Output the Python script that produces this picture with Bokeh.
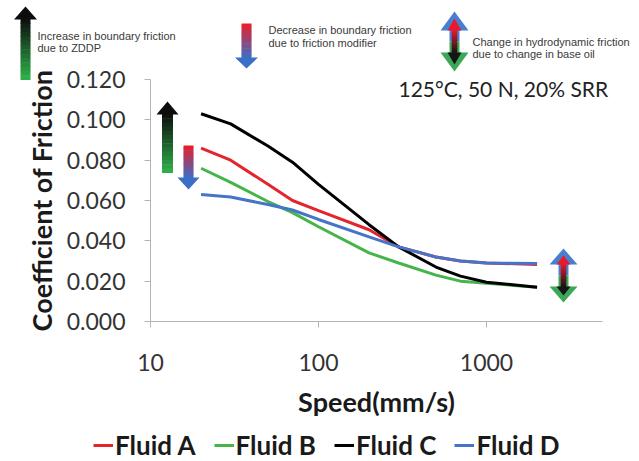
from bokeh.plotting import figure
from bokeh.models import (FixedTicker, Legend, LegendItem, Label, PolyAnnotation,
                          NumeralTickFormatter, Range1d)
from bokeh.embed import file_html
from bokeh.resources import INLINE

# ---------------- data ----------------
speed = [20, 30, 50, 70, 100, 200, 300, 500, 700, 1000, 2000]
fluid_a = [0.086, 0.080, 0.068, 0.060, 0.055, 0.0455, 0.037, 0.032, 0.030, 0.029, 0.0283]
fluid_b = [0.076, 0.069, 0.0595, 0.054, 0.047, 0.034, 0.029, 0.023, 0.020, 0.019, 0.017]
fluid_c = [0.103, 0.098, 0.087, 0.079, 0.068, 0.048, 0.037, 0.027, 0.0225, 0.0195, 0.017]
fluid_d = [0.063, 0.0617, 0.058, 0.0553, 0.0506, 0.042, 0.037, 0.032, 0.030, 0.029, 0.0288]
series_names = ["Fluid A", "Fluid B", "Fluid C", "Fluid D"]
series_colors = ["#e3262e", "#45b54a", "#000000", "#4575c9"]
y_ticks = [0.0, 0.02, 0.04, 0.06, 0.08, 0.10, 0.12]
x_ticks = [10, 100, 1000]

# ---------------- layout geometry (pixels) ----------------
W, H = 639, 461
AX_X, DECADE = 150, 168          # pixel of speed=10 and pixels per decade
AX_Y0, AX_Y1 = 321, 79           # pixels of COF 0.000 and 0.120
YMAX = 0.12
ypp = YMAX / (AX_Y0 - AX_Y1)     # COF per pixel

x_range = Range1d(10 ** (1 - AX_X / DECADE), 10 ** (1 + (W - AX_X) / DECADE))
y_range = Range1d(-(H - AX_Y0) * ypp, YMAX + AX_Y1 * ypp)

p = figure(width=W, height=H, x_axis_type="log", x_range=x_range, y_range=y_range,
           output_backend="svg", toolbar_location=None, min_border=0)
p.xgrid.visible = False
p.ygrid.visible = False
p.outline_line_color = None
p.background_fill_color = "white"
p.border_fill_color = "white"

for ax in (p.xaxis[0], p.yaxis[0]):
    ax.axis_line_color = "#b5b5b5"
    ax.major_tick_line_color = "#b5b5b5"
    ax.minor_tick_line_color = None
    ax.major_tick_in = 0
    ax.major_tick_out = 6
    ax.major_label_text_font = "Lato"
    ax.major_label_text_font_size = "23px"
    ax.major_label_text_color = "#333333"
    ax.axis_label_text_font = "Lato"
    ax.axis_label_text_font_style = "bold"
    ax.axis_label_text_font_size = "27px"
    ax.axis_label_text_color = "#1a1a1a"

p.yaxis.fixed_location = 10
p.yaxis.bounds = (0, YMAX)
p.yaxis.ticker = FixedTicker(ticks=y_ticks)
p.yaxis.formatter = NumeralTickFormatter(format="0.000")
p.yaxis.major_label_standoff = 19
p.yaxis.axis_label = "Coefficient of Friction"
p.yaxis.axis_label_standoff = 6

p.xaxis.fixed_location = 0
p.xaxis.bounds = (10, 10 ** (1 + (602 - AX_X) / DECADE))
p.xaxis.ticker = FixedTicker(ticks=x_ticks)
p.xaxis.formatter = NumeralTickFormatter(format="0")
p.xaxis.major_label_standoff = 26
p.xaxis.axis_label = "Speed(mm/s)"
p.xaxis.axis_label_standoff = 11

renderers = []
for ys, col in zip([fluid_a, fluid_b, fluid_c, fluid_d], series_colors):
    renderers.append(p.line(speed, ys, line_color=col, line_width=3))

legend = Legend(items=[LegendItem(label=n, renderers=[r]) for n, r in zip(series_names, renderers)],
                orientation="horizontal", location=(93, 0),
                label_text_font="Lato", label_text_font_style="bold",
                label_text_font_size="26px", label_text_color="#1a1a1a",
                glyph_width=20, label_standoff=2, spacing=18,
                border_line_color=None, background_fill_alpha=0,
                padding=0, margin=0)
p.add_layout(legend, "center")

# ---------------- decorative annotations (page pixel positions) ----------------


def sx(px):
    return px


def sy(py):
    return H - py


def poly(xs, ys, color):
    p.add_layout(PolyAnnotation(xs=[sx(x) for x in xs], ys=[sy(y) for y in ys],
                                xs_units="screen", ys_units="screen",
                                fill_color=color, fill_alpha=1.0,
                                line_color=None, level="overlay"))


def hexmix(c0, c1, t):
    a = [int(c0[i:i + 2], 16) for i in (1, 3, 5)]
    b = [int(c1[i:i + 2], 16) for i in (1, 3, 5)]
    return "#" + "".join("%02x" % round(a[k] + (b[k] - a[k]) * t) for k in range(3))


def grad_rect(x0, x1, y0, y1, c0, c1, n=14):
    for i in range(n):
        ya = y0 + (y1 - y0) * i / n
        yb = y0 + (y1 - y0) * (i + 1) / n + 0.6
        poly([x0, x1, x1, x0], [ya, ya, yb, yb], hexmix(c0, c1, (i + 0.5) / n))


def up_arrow(cx, tip, base, bottom, sw, hw, c_top, c_bot):
    grad_rect(cx - sw / 2, cx + sw / 2, base - 0.5, bottom, c_top, c_bot)
    poly([cx - hw / 2, cx, cx + hw / 2], [base, tip, base], c_top)


def down_arrow(cx, top, base, tip, sw, hw, c_top, c_bot):
    grad_rect(cx - sw / 2, cx + sw / 2, top, base + 0.5, c_top, c_bot)
    poly([cx - hw / 2, cx, cx + hw / 2], [base, tip, base], c_bot)


def double_arrow(cx, t_tip, t_base, b_base, b_tip, sw, hw):
    blue, green, red, black = "#4a7fcf", "#3aa856", "#e8192c", "#151515"
    mid = (t_base + b_base) / 2
    poly([cx - sw / 2, cx + sw / 2, cx + sw / 2, cx - sw / 2], [t_base - 0.5, t_base - 0.5, mid, mid], blue)
    poly([cx - sw / 2, cx + sw / 2, cx + sw / 2, cx - sw / 2], [mid, mid, b_base + 0.5, b_base + 0.5], green)
    poly([cx - hw / 2, cx, cx + hw / 2], [t_base, t_tip, t_base], blue)
    poly([cx - hw / 2, cx, cx + hw / 2], [b_base, b_tip, b_base], green)
    iw = sw * 0.55
    poly([cx - hw / 4, cx, cx + hw / 4], [t_base, t_tip + 7, t_base], red)
    poly([cx - hw / 4, cx, cx + hw / 4], [b_base, b_tip - 7, b_base], black)
    grad_rect(cx - iw / 2, cx + iw / 2, t_base - 0.5, b_base + 0.5, red, black)


GREEN, BLACK, RED, BLUE = "#2fb34a", "#0d0d0d", "#ed1c24", "#3b6fc6"

# top annotations
up_arrow(25, 6, 19, 79, 10, 23, BLACK, GREEN)
down_arrow(246, 23, 57, 68, 10, 23, RED, BLUE)
double_arrow(454, 11, 30, 52, 71, 10, 28)
# in-chart annotations
up_arrow(167, 101, 114, 172, 11, 22, BLACK, GREEN)
down_arrow(188, 145, 177, 189, 10, 22, RED, BLUE)
double_arrow(563, 248, 264, 286, 302, 10, 28)

note_font = "Liberation Sans"


def note(px, py, text, size="11px", font=note_font, color="#3a3a3a"):
    p.add_layout(Label(x=sx(px), y=sy(py), x_units="screen", y_units="screen", text=text,
                       text_font=font, text_font_size=size, text_color=color,
                       text_baseline="middle", text_align="left"))


note(37, 35, "Increase in boundary friction")
note(37, 47, "due to ZDDP")
note(268, 29, "Decrease in boundary friction")
note(268, 42, "due to friction modifier")
note(472, 41, "Change in hydrodynamic friction")
note(472, 53, "due to change in base oil")
note(398, 88, "125°C, 50 N, 20% SRR", size="21px", font="Lato", color="#222222")

open("out.html", "w").write(file_html(p, INLINE))
